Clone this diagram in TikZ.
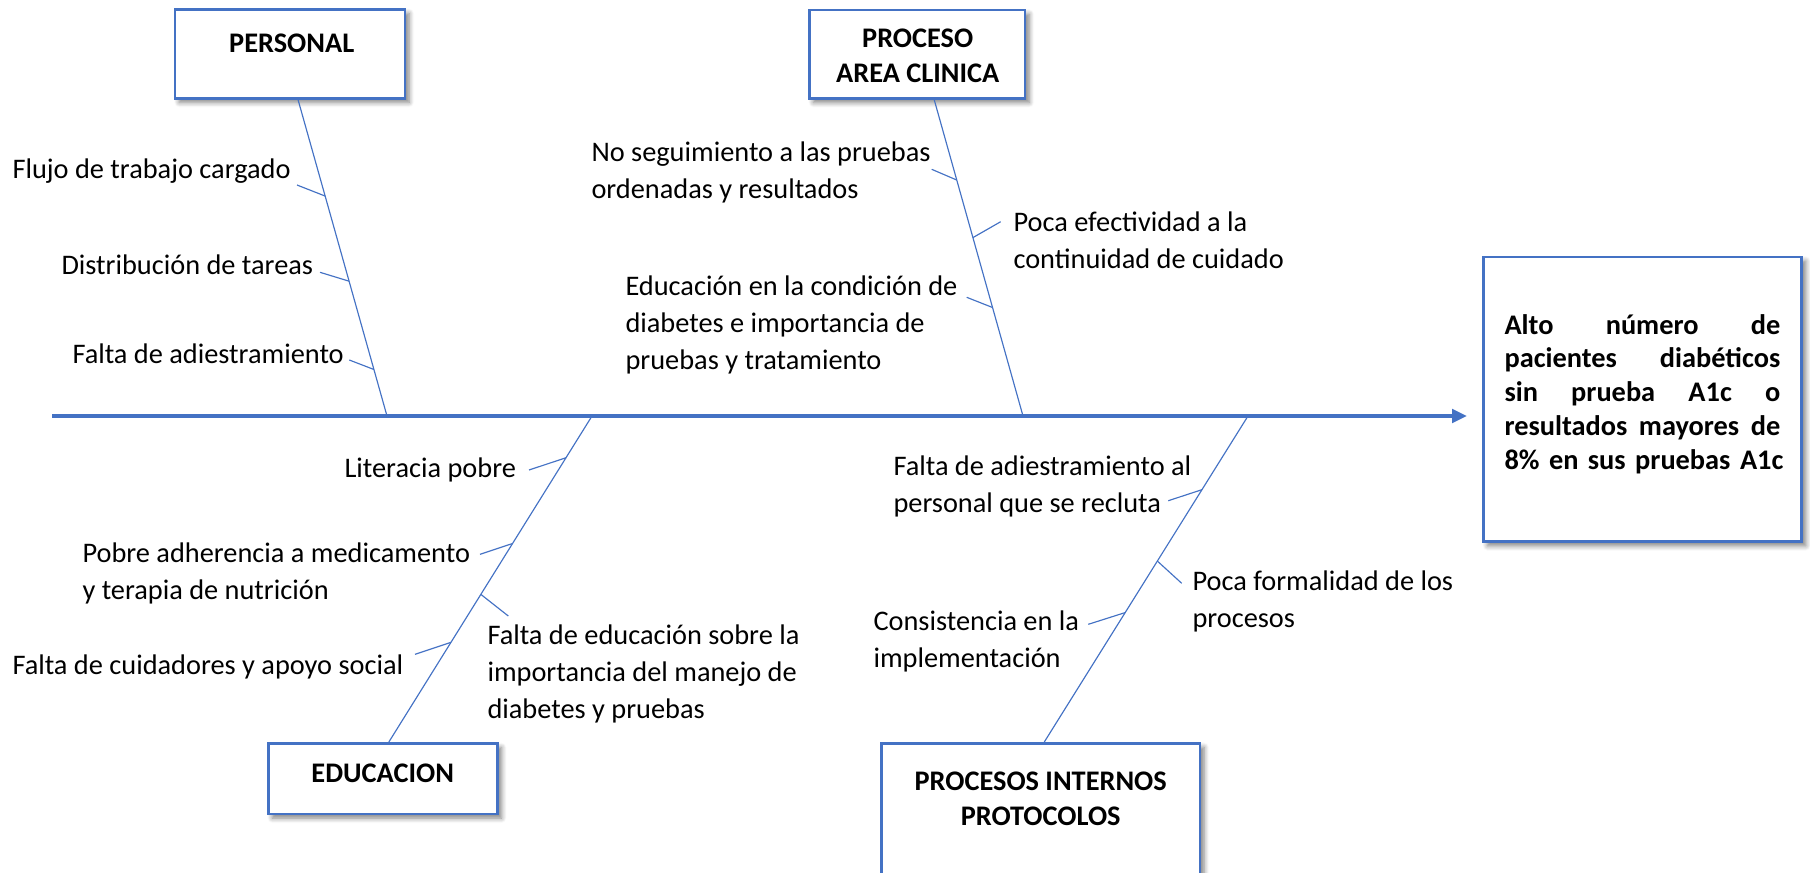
\documentclass[tikz,border=0pt]{standalone}
\usepackage{fontspec}
\setmainfont{Carlito}
\usetikzlibrary{arrows.meta,shadows.blur}
\definecolor{fishblue}{HTML}{4472C4}
\tikzset{
	catbox/.style={draw=fishblue, line width=1pt, fill=white, blur shadow={shadow xshift=1.6pt, shadow yshift=-1.6pt, shadow opacity=50, shadow blur steps=6}},
	cattitle/.style={font=\bfseries\fontsize{11}{13.6}\selectfont, align=center, inner sep=0pt},
	cause/.style={font=\fontsize{11}{14.4}\selectfont, align=left, anchor=north west, inner sep=0pt},
	effecttxt/.style={font=\bfseries\fontsize{11}{13.1}\selectfont, text width=107pt, align=left, anchor=north west, inner sep=0pt},
	spine/.style={draw=fishblue, line width=1.4pt, -{Triangle[length=5.8pt,width=5.2pt]}},
	bone/.style={draw=fishblue, line width=0.45pt},
	rib/.style={draw=fishblue, line width=0.45pt}
}

\begin{document}
\begin{tikzpicture}[x=0.388pt, y=-0.388pt]
			%%%%% START %%%%%
			\useasboundingbox (0,0) rectangle (1810,873);
			
			\coordinate (tail) at (52,416);
			\coordinate (head) at (1467,416);
			\coordinate (s1) at (387,416);
			\coordinate (s2) at (1023,416);
			\coordinate (s3) at (592,416);
			\coordinate (s4) at (1248,416);
			
			\node[catbox, minimum width=89.2pt, minimum height=34.5pt] (personal) at (290,53.8) {};
			\node[catbox, minimum width=83.7pt, minimum height=34.3pt] (clinica) at (917.2,54.2) {};
			\node[catbox, minimum width=88.9pt, minimum height=27.4pt] (educ) at (382.8,778.7) {};
			\node[catbox, minimum width=123.5pt, minimum height=62.1pt] (internos) at (1040.8,823.3) {};
			\node[catbox, minimum width=123.5pt, minimum height=110.5pt] (effect) at (1642.5,399.3) {};
			
			\node[cattitle] (personal-t) at (291.7,43.3) {PERSONAL};
			\node[cattitle] (clinica-t) at (917.7,55.8) {PROCESO\\AREA CLINICA};
			\node[cattitle] (educ-t) at (382.7,773.3) {EDUCACION};
			\node[cattitle] (internos-t) at (1040.7,798.9) {PROCESOS INTERNOS\\PROTOCOLOS};
			\node[effecttxt] (effect-t) at (1504,310) {\strut\makebox[\linewidth]{Alto\hfill número\hfill de}\\
				\makebox[\linewidth]{pacientes\hfill diabéticos}\\
				\makebox[\linewidth]{sin\hfill prueba\hfill A1c\hfill o}\\
				\makebox[\linewidth]{resultados\hfill mayores\hfill de}\\
				\makebox[\linewidth][l]{8\% en sus pruebas A1c}};
			
			\draw[spine] (tail) -- (head);
			
			\draw[bone] ([xshift=8pt*0.388]personal.south) -- (s1)
				coordinate[pos=.305] (b11) coordinate[pos=.574] (b12) coordinate[pos=.853] (b13);
			\draw[bone] ([xshift=17pt*0.388]clinica.south) -- (s2)
				coordinate[pos=.254] (b21) coordinate[pos=.436] (b22) coordinate[pos=.657] (b23);
			\draw[bone] (s3) -- ([xshift=6pt*0.388]educ.north)
				coordinate[pos=.128] (b31) coordinate[pos=.391] (b32) coordinate[pos=.547] (b33) coordinate[pos=.694] (b34);
			\draw[bone] (s4) -- ([xshift=3.5pt*0.388]internos.north)
				coordinate[pos=.226] (b41) coordinate[pos=.445] (b42) coordinate[pos=.603] (b43);
			
			\node[cause] (flujo) at (12,152) {\strut Flujo de trabajo cargado};
			\node[cause] (distrib) at (61,248) {\strut Distribución de tareas};
			\node[cause] (adiestr) at (72,337) {\strut Falta de adiestramiento};
			\coordinate (r11) at (297,185);
			\coordinate (r12) at (320,272.3);
			\coordinate (r13) at (349.3,360);
			\draw[rib] (r11) -- (b11);
			\draw[rib] (r12) -- (b12);
			\draw[rib] (r13) -- (b13);
			
			\node[cause] (seguim) at (591,135) {\strut No seguimiento a las pruebas\\ordenadas y resultados};
			\node[cause] (efectiv) at (1013,205) {\strut Poca efectividad a la\\continuidad de cuidado};
			\node[cause] (condic) at (625,269) {\strut Educación en la condición de\\diabetes e importancia de\\pruebas y tratamiento};
			\coordinate (r21) at (931.7,169.3);
			\coordinate (r22) at (1000.7,221.7);
			\coordinate (r23) at (966.7,297.3);
			\draw[rib] (r21) -- (b21);
			\draw[rib] (r22) -- (b22);
			\draw[rib] (r23) -- (b23);
			
			\node[cause] (literac) at (344,451) {\strut Literacia pobre};
			\node[cause] (adheren) at (82,536) {\strut Pobre adherencia a medicamento\\y terapia de nutrición};
			\node[cause] (educsob) at (487,618) {\strut Falta de educación sobre la\\importancia del manejo de\\diabetes y pruebas};
			\node[cause] (cuidad) at (12,648) {\strut Falta de cuidadores y apoyo social};
			\coordinate (r31) at (529,470);
			\coordinate (r32) at (480,554.3);
			\coordinate (r33) at (508.3,616);
			\coordinate (r34) at (415,654.3);
			\draw[rib] (r31) -- (b31);
			\draw[rib] (r32) -- (b32);
			\draw[rib] (r33) -- (b33);
			\draw[rib] (r34) -- (b34);
			
			\node[cause] (recluta) at (893,449) {\strut Falta de adiestramiento al\\personal que se recluta};
			\node[cause] (formal) at (1192,564) {\strut Poca formalidad de los\\procesos};
			\node[cause] (consist) at (873,604) {\strut Consistencia en la\\implementación};
			\coordinate (r41) at (1168.3,500.7);
			\coordinate (r42) at (1181.7,583.3);
			\coordinate (r43) at (1088.3,624.3);
			\draw[rib] (r41) -- (b41);
			\draw[rib] (r42) -- (b42);
			\draw[rib] (r43) -- (b43);
			%%%%% END %%%%%
\end{tikzpicture}
\end{document}
